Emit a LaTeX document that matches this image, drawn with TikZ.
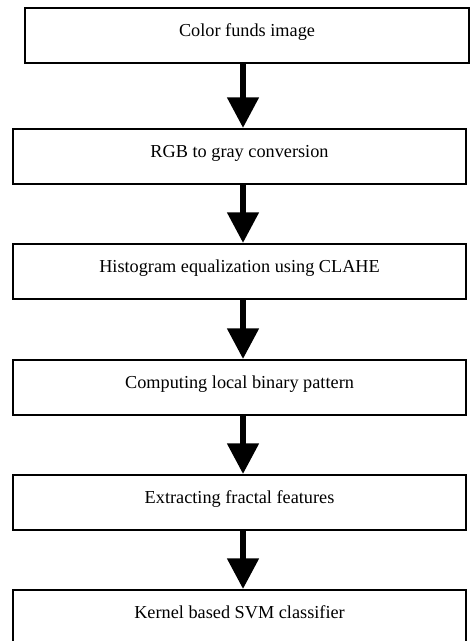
\documentclass[tikz,border=0pt]{standalone}
\usepackage{fontspec}
\setmainfont{Liberation Serif}
\usetikzlibrary{positioning,arrows.meta}

\begin{document}
\begin{tikzpicture}[
    x=0.75pt, y=-0.75pt,
    node distance = 43.4pt,
    font={\fontsize{13.7}{16}\selectfont},
    stagebox/.style={draw,line width=1.6pt,rectangle,inner sep=0pt,
        minimum width=339.75pt,minimum height=41.25pt,
        text height=7pt,text depth=6pt,align=center},
    flow/.style={line width=4.5pt,-{Triangle[length=23pt,width=23pt]}},
]

    \clip (0,0) rectangle (470,641);

    % Nodes
    \node[stagebox,minimum width=333pt] (image) at (247,35.5) {Color funds image};
    \node[stagebox,below=47.9pt of image,xshift=-5.6pt] (gray)    {RGB to gray conversion};
    \node[stagebox,below=of gray]                        (clahe)   {Histogram equalization using CLAHE};
    \node[stagebox,below=44.2pt of clahe]                (lbp)     {Computing local binary pattern};
    \node[stagebox,below=of lbp]                         (fractal) {Extracting fractal features};
    \node[stagebox,below=of fractal]                     (svm)     {Kernel based SVM classifier};

    % Arrows
    \coordinate (spine) at (243,0);
    \draw[flow] (image.south -| spine)   -- (gray.north -| spine);
    \draw[flow] (gray.south -| spine)    -- (clahe.north -| spine);
    \draw[flow] (clahe.south -| spine)   -- (lbp.north -| spine);
    \draw[flow] (lbp.south -| spine)     -- (fractal.north -| spine);
    \draw[flow] (fractal.south -| spine) -- (svm.north -| spine);

\end{tikzpicture}
\end{document}
